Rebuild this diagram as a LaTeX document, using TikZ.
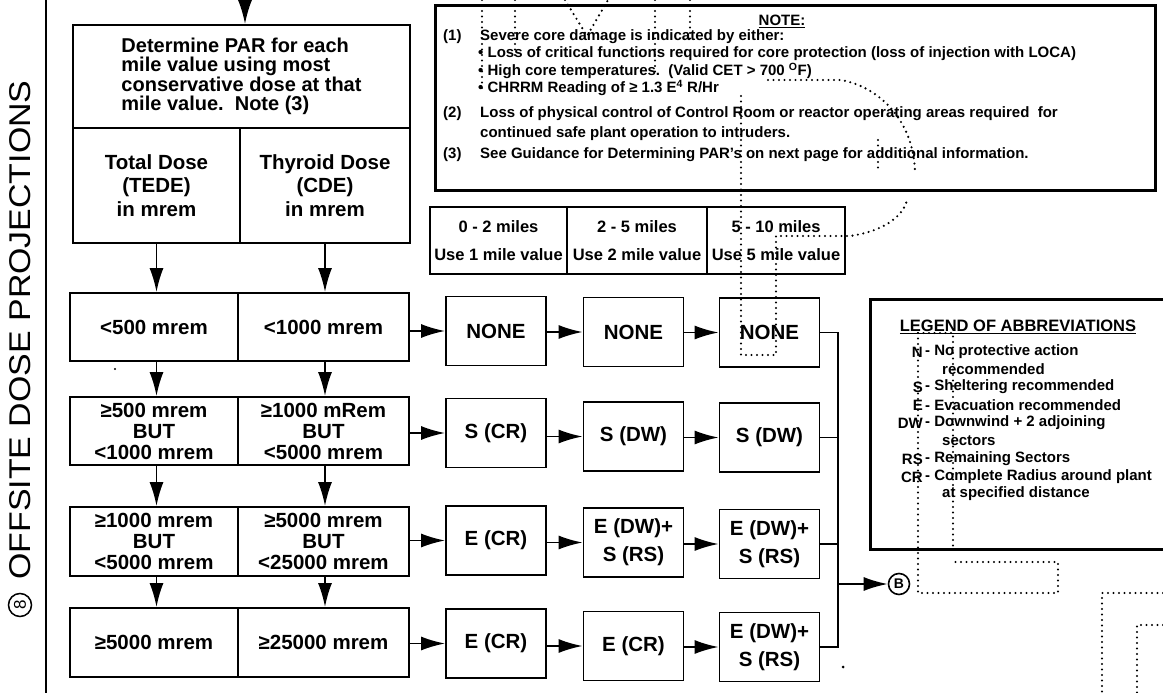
\documentclass[tikz,border=0pt]{standalone}
\usepackage{fontspec}
\setmainfont{Liberation Sans}
\usetikzlibrary{arrows.meta}
\begin{document}
\begin{tikzpicture}[x=1pt,y=-1pt,
  box/.style={draw, line width=1.8pt, inner sep=0pt, align=center, font=\bfseries\fontsize{20.5}{21}\selectfont},
  act/.style={box, minimum width=100pt, minimum height=69pt, font=\bfseries\fontsize{20.5}{28}\selectfont},
  lbox/.style={box, minimum height=68pt},
  mile/.style={draw, line width=1.6pt, minimum height=67pt, inner sep=0pt, align=center, font=\bfseries\fontsize{16.5}{28}\selectfont},
  arr/.style={line width=1.8pt, -{Latex[length=24pt,width=14pt]}},
  ln/.style={line width=1.8pt},
  nt/.style={anchor=west, inner sep=0pt, font=\bfseries\fontsize{15}{16}\selectfont},
  lt/.style={inner sep=0pt, font=\bfseries\fontsize{15}{16}\selectfont},
  art/.style={line width=2.4pt, dash pattern=on 0pt off 5.5pt, line cap=round}]
\useasboundingbox (0,0) rectangle (1163,693);
\clip (0,0) rectangle (1163,693);
\fill[white] (0,0) rectangle (1163,693);

% left rule and label
\draw[line width=2.6pt] (46,0) -- (46,693);
\node[rotate=90, inner sep=0pt, font=\fontsize{30}{30}\selectfont] (lbl) at (20,330) {\scalebox{1.13}[1]{OFFSITE DOSE PROJECTIONS}};
\node[draw, circle, line width=1.5pt, minimum size=23pt, inner sep=0pt, rotate=90, font=\fontsize{17}{17}\selectfont] (c8) at (20,605) {8};

% top box
\coordinate (top) at (245,0);
\node[box, minimum width=337pt, minimum height=103pt, align=left, font=\bfseries\fontsize{20}{19.5}\selectfont] (det) at (241.5,76.5) {Determine PAR for each\\mile value using most\\conservative dose at that\\mile value.\ \ Note (3)};
\node[box, minimum width=167pt, minimum height=115pt, font=\bfseries\fontsize{20.5}{23.5}\selectfont] (tede) at (156.5,185.5) {Total Dose\\(TEDE)\\in mrem};
\node[box, minimum width=170pt, minimum height=115pt, font=\bfseries\fontsize{20.5}{23.5}\selectfont] (cde) at (325,185.5) {Thyroid Dose\\(CDE)\\in mrem};
\draw[arr] (top) -- (top |- det.north);

% left dose rows
\node[lbox, minimum width=168pt] (r1a) at (154,327) {<500 mrem};
\node[lbox, minimum width=171pt] (r1b) at (323.5,327) {<1000 mrem};
\node[lbox, minimum width=168pt] (r2a) at (154,431) {≥500 mrem\\BUT\\<1000 mrem};
\node[lbox, minimum width=171pt] (r2b) at (323.5,431) {≥1000 mRem\\BUT\\<5000 mrem};
\node[lbox, minimum width=168pt, minimum height=69pt] (r3a) at (154,541.5) {≥1000 mrem\\BUT\\<5000 mrem};
\node[lbox, minimum width=171pt, minimum height=69pt] (r3b) at (323.5,541.5) {≥5000 mrem\\BUT\\<25000 mrem};
\node[lbox, minimum width=168pt, minimum height=69pt] (r4a) at (154,642.5) {≥5000 mrem};
\node[lbox, minimum width=171pt, minimum height=69pt] (r4b) at (323.5,642.5) {≥25000 mrem};

\draw[arr] (tede.south) -- (tede.south |- r1a.north);
\draw[arr] (cde.south) -- (cde.south |- r1b.north);
\draw[arr] (tede.south |- r1a.south) -- (tede.south |- r2a.north);
\draw[arr] (cde.south |- r1b.south) -- (cde.south |- r2b.north);
\draw[arr] (tede.south |- r2a.south) -- (tede.south |- r3a.north);
\draw[arr] (cde.south |- r2b.south) -- (cde.south |- r3b.north);
\draw[arr] (tede.south |- r3a.south) -- (tede.south |- r4a.north);
\draw[arr] (cde.south |- r3b.south) -- (cde.south |- r4b.north);

% miles table
\node[mile, minimum width=137pt] (m1) at (498.5,240.5) {0 - 2 miles\\Use 1 mile value};
\node[mile, minimum width=140pt] (m2) at (637,240.5) {2 - 5 miles\\Use 2 mile value};
\node[mile, minimum width=138pt] (m3) at (776,240.5) {5 - 10 miles\\Use 5 mile value};

% action boxes
\node[act] (a1) at (496,331) {NONE};
\node[act] (b1) at (633.5,332) {NONE};
\node[act] (c1) at (769.5,332.5) {NONE};
\node[act] (a2) at (496,433) {S (CR)};
\node[act] (b2) at (633.5,436.5) {S (DW)};
\node[act] (c2) at (769.5,437.5) {S (DW)};
\node[act] (a3) at (496,540.5) {E (CR)};
\node[act] (b3) at (633.5,542.5) {E (DW)+\\S (RS)};
\node[act] (c3) at (769.5,544) {E (DW)+\\S (RS)};
\node[act] (a4) at (496,643.5) {E (CR)};
\node[act] (b4) at (633.5,646) {E (CR)};
\node[act] (c4) at (769.5,647) {E (DW)+\\S (RS)};

\draw[arr] (r1b.east |- a1.west) -- (a1.west);
\draw[arr] (a1.east |- b1.west) -- (b1.west);
\draw[arr] (b1.east |- c1.west) -- (c1.west);
\draw[arr] (r2b.east |- a2.west) -- (a2.west);
\draw[arr] (a2.east |- b2.west) -- (b2.west);
\draw[arr] (b2.east |- c2.west) -- (c2.west);
\draw[arr] (r3b.east |- a3.west) -- (a3.west);
\draw[arr] (a3.east |- b3.west) -- (b3.west);
\draw[arr] (b3.east |- c3.west) -- (c3.west);
\draw[arr] (r4b.east |- a4.west) -- (a4.west);
\draw[arr] (a4.east |- b4.west) -- (b4.west);
\draw[arr] (b4.east |- c4.west) -- (c4.west);

% bus to B
\coordinate (bus) at (838,0);
\coordinate (bj) at (838,584);
\draw[ln] (c1.east) -- (c1.east -| bus) -- (c4.east -| bus) -- (c4.east);
\draw[ln] (c2.east) -- (c2.east -| bus);
\draw[ln] (c3.east) -- (c3.east -| bus);
\node[draw, circle, line width=1.6pt, minimum size=21pt, inner sep=0pt, font=\bfseries\fontsize{14}{14}\selectfont] (B) at (899,584) {B};
\draw[arr] (bj) -- (B.west);

% note box
\node[draw, line width=3pt, minimum width=720pt, minimum height=184pt, inner sep=0pt] (note) at (795,98) {};
\node[inner sep=0pt, font=\bfseries\fontsize{15}{16}\selectfont] (nh) at (782,21) {\underline{NOTE:}};
\node[nt] (n1) at (443,37) {(1)};
\node[nt] (n1t) at (480,37) {Severe core damage is indicated by either:};
\node[nt] (n1a) at (478,54) {• Loss of critical functions required for core protection (loss of injection with LOCA)};
\node[nt] (n1b) at (478,71) {• High core temperatures.\ \ (Valid CET > 700 \textsuperscript{O}F)};
\node[nt] (n1c) at (478,88) {• CHRRM Reading of ≥ 1.3 E\textsuperscript{4} R/Hr};
\node[nt] (n2) at (443,114) {(2)};
\node[nt] (n2t) at (480,114) {Loss of physical control of Control Room or reactor operating areas required\ \ for};
\node[nt] (n2u) at (480,134) {continued safe plant operation to intruders.};
\node[nt] (n3) at (443,155) {(3)};
\node[nt] (n3t) at (480,155) {See Guidance for Determining PAR's on next page for additional information.};

% legend
\node[draw, line width=2.6pt, anchor=north west, minimum width=320pt, minimum height=250pt, inner sep=0pt] (leg) at (869,298) {};
\node[inner sep=0pt, font=\bfseries\fontsize{16.5}{17}\selectfont] (lh) at (1018,327) {\underline{LEGEND OF ABBREVIATIONS}};
\node[lt, anchor=east] (la1) at (923,352) {N};
\node[lt, anchor=west] (lb1) at (925,352) {- No protective action};
\node[lt, anchor=west] (lc1) at (942,369) {recommended};
\node[lt, anchor=east] (la2) at (923,387) {S};
\node[lt, anchor=west] (lb2) at (925,387) {- Sheltering recommended};
\node[lt, anchor=east] (la3) at (923,405) {E};
\node[lt, anchor=west] (lb3) at (925,405) {- Evacuation recommended};
\node[lt, anchor=east] (la4) at (923,423) {DW};
\node[lt, anchor=west] (lb4) at (925,423) {- Downwind + 2 adjoining};
\node[lt, anchor=west] (lc4) at (942,441) {sectors};
\node[lt, anchor=east] (la5) at (923,459) {RS};
\node[lt, anchor=west] (lb5) at (925,459) {- Remaining Sectors};
\node[lt, anchor=east] (la6) at (923,477) {CR};
\node[lt, anchor=west] (lb6) at (925,477) {- Complete Radius around plant};
\node[lt, anchor=west] (lc6) at (942,494) {at specified distance};

% scan specks
\fill (843,667) circle (1.5);
\fill (115,369) circle (1.1);

% bleed-through dotted marks
\draw[art] (482,0) -- (482,92);
\draw[art] (515,0) -- (515,58);
\draw[art] (565,0) -- (587,36) -- (608,0);
\draw[art] (655,0) -- (655,72);
\draw[art] (690,0) -- (690,40);
\draw[art] (741,96) -- (741,355) -- (776,355) -- (776,236) -- (850,236) .. controls (880,232) and (903,218) .. (907,200);
\draw[art] (768,80) -- (840,80) .. controls (870,84) and (912,112) .. (915,170);
\draw[art] (878,140) -- (878,168);
\draw[art] (918,333) -- (953,333) -- (953,548);
\draw[art] (918,333) -- (918,593) -- (1058,593) -- (1058,562) -- (953,562);
\draw[art] (1163,593) -- (1102,593) -- (1102,693);
\draw[art] (1163,625) -- (1137,625) -- (1137,693);
\end{tikzpicture}
\end{document}
